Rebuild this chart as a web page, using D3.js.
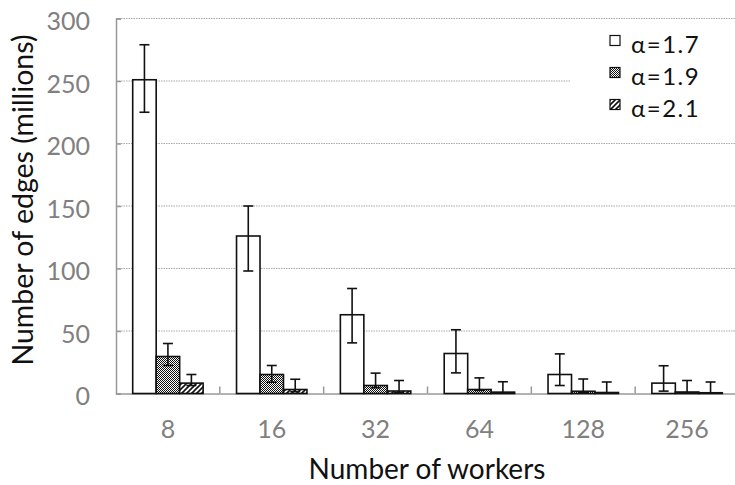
<!DOCTYPE html>
<html><head><meta charset="utf-8">
<script src="https://cdn.jsdelivr.net/npm/d3@7"></script>
<style>
body{margin:0;background:#fff;}
text{font-family:Lato,"Open Sans",sans-serif;}
</style></head>
<body><svg id="c" width="735" height="485"></svg>
<script>
const categories = ["8","16","32","64","128","256"];
const seriesNames = ["α=1.7","α=1.9","α=2.1"];
const a17   = [251, 126, 63, 32, 15.2, 8.3];
const a17Hi = [279, 150, 84, 51, 31.7, 22.2];
const a17Lo = [225, 98, 40.5, 16.5, 6.4, 1.9];
const a19   = [29.6, 15.2, 6.4, 3.2, 1.8, 1.2];
const a19Hi = [40, 22.4, 16.3, 12.5, 11.6, 10.4];
const a19Lo = [22.4, 9, 4.6, 2.5, 1, 0.6];
const a21   = [8.3, 3.2, 2, 1.1, 0.8, 0.6];
const a21Hi = [15.2, 11.4, 10.4, 9.4, 9.2, 9.2];
const a21Lo = [6.4, 1.5, 1, 0.5, 0.4, 0.3];
const yTicks = [0, 50, 100, 150, 200, 250, 300];

const series = [
  {name: seriesNames[0], v: a17, hi: a17Hi, lo: a17Lo, fill: "#fff"},
  {name: seriesNames[1], v: a19, hi: a19Hi, lo: a19Lo, fill: "url(#dots)"},
  {name: seriesNames[2], v: a21, hi: a21Hi, lo: a21Lo, fill: "url(#diag)"}
];

const svg = d3.select("#c");
const defs = svg.append("defs");
const pd = defs.append("pattern").attr("id","dots").attr("patternUnits","userSpaceOnUse")
  .attr("width",2).attr("height",2);
pd.append("rect").attr("width",2).attr("height",2).attr("fill","#fff");
pd.append("rect").attr("width",1).attr("height",1).attr("fill","#111");
pd.append("rect").attr("x",1).attr("y",1).attr("width",1).attr("height",1).attr("fill","#111");
const pg = defs.append("pattern").attr("id","diag").attr("patternUnits","userSpaceOnUse")
  .attr("width",5).attr("height",5);
pg.append("rect").attr("width",5).attr("height",5).attr("fill","#fff");
pg.append("path").attr("d","M-1,6 L6,-1 M-1,1 L1,-1 M4,6 L6,4").attr("stroke","#111").attr("stroke-width",1.6);

const mLeft = 116, mRight = 739, mTop = 18.5, mBottom = 393.5;
const x = d3.scaleBand().domain(categories).range([mLeft, mRight]).paddingInner(0).paddingOuter(0);
const inner = d3.scaleBand().domain(seriesNames).range([16.7, x.bandwidth()-16.7]);
const y = d3.scaleLinear().domain([0, 300]).range([mBottom, mTop]);

// gridlines
const grid = svg.append("g");
yTicks.filter(t => t > 0).forEach(t => {
  grid.append("line").attr("x1", mLeft).attr("x2", 735).attr("y1", y(t)).attr("y2", y(t))
    .attr("stroke", "#aaa").attr("stroke-width", 1).attr("stroke-dasharray", "1.5,1");
});

// legend background (covers gridlines)
const lg = svg.append("g");
lg.append("rect").attr("x", 570).attr("y", 24).attr("width", 165).attr("height", 112).attr("fill", "#fff");

// y axis
const yAxis = svg.append("g").attr("transform", `translate(${mLeft},0)`)
  .call(d3.axisLeft(y).tickValues(yTicks).tickSize(-5).tickPadding(26));
yAxis.select(".domain").attr("stroke", "#999").attr("stroke-width", 1.5);
yAxis.selectAll(".tick line").attr("stroke", "#999").attr("stroke-width", 1.5);
yAxis.selectAll("text").attr("fill", "#808080").attr("dy", "0.45em")
  .style("font-size", "25px").style("font-family", "Lato,sans-serif");

// x axis
const xAxis = svg.append("g").attr("transform", `translate(0,${mBottom})`)
  .call(d3.axisBottom(x).tickSize(0).tickPadding(27));
xAxis.select(".domain").attr("stroke", "#999").attr("stroke-width", 1.5);
xAxis.selectAll("text").attr("fill", "#808080")
  .style("font-size", "25px").style("font-family", "Lato,sans-serif");
// between-category ticks
categories.slice(1).forEach(c => {
  svg.append("line").attr("x1", x(c)).attr("x2", x(c)).attr("y1", mBottom).attr("y2", mBottom - 7)
    .attr("stroke", "#999").attr("stroke-width", 1.5);
});

// bars
const bars = svg.append("g");
series.forEach(s => {
  categories.forEach((c, i) => {
    const bx = x(c) + inner(s.name);
    bars.append("rect").attr("x", bx).attr("y", y(s.v[i]))
      .attr("width", inner.bandwidth()).attr("height", y(0) - y(s.v[i]))
      .attr("fill", s.fill).attr("stroke", "#111").attr("stroke-width", 1.6);
  });
});
// error bars
const eb = svg.append("g").attr("stroke", "#111").attr("stroke-width", 1.6);
series.forEach(s => {
  categories.forEach((c, i) => {
    const cx = x(c) + inner(s.name) + inner.bandwidth()/2;
    eb.append("line").attr("x1", cx).attr("x2", cx).attr("y1", y(s.hi[i])).attr("y2", y(s.lo[i]));
    eb.append("line").attr("x1", cx-5).attr("x2", cx+5).attr("y1", y(s.hi[i])).attr("y2", y(s.hi[i]));
    eb.append("line").attr("x1", cx-5).attr("x2", cx+5).attr("y1", y(s.lo[i])).attr("y2", y(s.lo[i]));
  });
});

// legend entries
series.forEach((s, k) => {
  const base = 53 + k * 32;
  lg.append("rect").attr("x", 610).attr("y", base - 17.5).attr("width", 10).attr("height", 10)
    .attr("fill", s.fill).attr("stroke", "#111").attr("stroke-width", 1.2);
  lg.append("text").attr("x", 631).attr("y", base).text(s.name)
    .style("font-size", "24px").style("letter-spacing", "1.5px").attr("fill", "#111");
});

// axis titles
svg.append("text").attr("x", 427).attr("y", 479).attr("text-anchor", "middle")
  .style("font-size", "28px").attr("fill", "#111").text("Number of workers");
svg.append("text").attr("transform", "translate(33,200) rotate(-90)").attr("text-anchor", "middle")
  .style("font-size", "28.5px").attr("fill", "#111").text("Number of edges (millions)");
</script></body></html>
